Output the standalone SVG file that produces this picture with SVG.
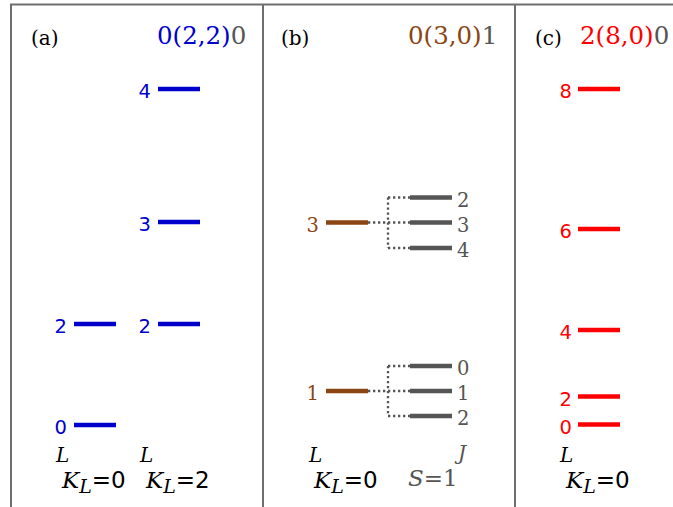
<svg xmlns="http://www.w3.org/2000/svg" width="673" height="507" viewBox="0 0 673 507">
<style>
.frame{stroke:#6e6e6e;stroke-width:2;fill:none}
.lv{stroke-width:4.5;fill:none}
.blue{stroke:#0000cc}
.red{stroke:#ff0000}
.brown{stroke:#8b4513}
.gray{stroke:#555555}
.dot{stroke:#555555;stroke-width:2.3;stroke-dasharray:2.3,2.7;fill:none}
.title{font-family:"DejaVu Serif",serif;font-size:24.5px}
.pl{font-family:"DejaVu Serif",serif;font-size:20px;fill:#000}
.num{font-family:"DejaVu Sans",sans-serif;font-size:19.5px;text-anchor:end}
.snum{font-family:"DejaVu Serif",serif;font-size:19.5px}
.it{font-family:"DejaVu Serif",serif;font-style:italic;font-size:20px;fill:#000}
.kl{font-family:"DejaVu Serif",serif;font-size:23px;fill:#000}
.eq{font-family:"DejaVu Sans",sans-serif;font-style:normal}
</style>
<g id="frame">
<path class="frame" d="M11,507 V4.5 H673 M263,4.5 V507 M515,4.5 V507"/>
</g>
<g id="panel-a">
<text class="pl" x="31" y="45">(a)</text>
<text class="title" x="157" y="44"><tspan fill="#0000cc">0(2,2)</tspan><tspan fill="#555555">0</tspan></text>
<g id="a-KL0-L2"><line class="lv blue" x1="74" y1="324" x2="116" y2="324"/><text class="num" x="67" y="333" fill="#0000cc">2</text></g>
<g id="a-KL0-L0"><line class="lv blue" x1="74" y1="425" x2="116" y2="425"/><text class="num" x="67" y="434" fill="#0000cc">0</text></g>
<g id="a-KL2-L4"><line class="lv blue" x1="158" y1="89" x2="200" y2="89"/><text class="num" x="151" y="98" fill="#0000cc">4</text></g>
<g id="a-KL2-L3"><line class="lv blue" x1="158" y1="222" x2="200" y2="222"/><text class="num" x="151" y="231" fill="#0000cc">3</text></g>
<g id="a-KL2-L2"><line class="lv blue" x1="158" y1="324" x2="200" y2="324"/><text class="num" x="151" y="333" fill="#0000cc">2</text></g>
<text class="it" x="56" y="462">L</text>
<text class="kl" x="62" y="488"><tspan font-style="italic">K</tspan><tspan font-style="italic" font-size="19" dy="5">L</tspan><tspan class="eq" dy="-5">=0</tspan></text>
<text class="it" x="140" y="462">L</text>
<text class="kl" x="146" y="488"><tspan font-style="italic">K</tspan><tspan font-style="italic" font-size="19" dy="5">L</tspan><tspan class="eq" dy="-5">=2</tspan></text>
</g>
<g id="panel-b">
<text class="pl" x="281" y="45">(b)</text>
<text class="title" x="408" y="44"><tspan fill="#8b4513">0(3,0)</tspan><tspan fill="#555555">1</tspan></text>
<g id="b-L3"><line class="lv brown" x1="326" y1="222.5" x2="368" y2="222.5"/><text class="snum" x="319" y="232" text-anchor="end" fill="#8b4513">3</text></g>
<g id="b-L1"><line class="lv brown" x1="326" y1="391" x2="368" y2="391"/><text class="snum" x="319" y="400" text-anchor="end" fill="#8b4513">1</text></g>
<g id="b-J2-upper"><line class="lv gray" x1="410" y1="197.5" x2="452" y2="197.5"/><text class="snum" x="457" y="207" fill="#555555">2</text></g>
<g id="b-J3-upper"><line class="lv gray" x1="410" y1="222.5" x2="452" y2="222.5"/><text class="snum" x="457" y="232" fill="#555555">3</text></g>
<g id="b-J4-upper"><line class="lv gray" x1="410" y1="248" x2="452" y2="248"/><text class="snum" x="457" y="257" fill="#555555">4</text></g>
<g id="b-J0-lower"><line class="lv gray" x1="410" y1="366" x2="452" y2="366"/><text class="snum" x="457" y="375" fill="#555555">0</text></g>
<g id="b-J1-lower"><line class="lv gray" x1="410" y1="391" x2="452" y2="391"/><text class="snum" x="457" y="400" fill="#555555">1</text></g>
<g id="b-J2-lower"><line class="lv gray" x1="410" y1="416" x2="452" y2="416"/><text class="snum" x="457" y="425" fill="#555555">2</text></g>
<text class="it" x="309" y="462">L</text>
<text class="kl" x="314" y="488"><tspan font-style="italic">K</tspan><tspan font-style="italic" font-size="19" dy="5">L</tspan><tspan class="eq" dy="-5">=0</tspan></text>
<text class="it" x="458" y="460" style="fill:#555555">J</text>
<text class="kl" x="408" y="486" style="fill:#555555"><tspan font-style="italic">S</tspan>=1</text>
</g>
<g id="connectors">
<path class="dot" d="M368,222.5 H388 M388,197.5 V248 M388,197.5 H410 M388,222.5 H410 M388,248 H410"/>
<path class="dot" d="M368,391 H388 M388,366 V416 M388,366 H410 M388,391 H410 M388,416 H410"/>
</g>
<g id="panel-c">
<text class="pl" x="535" y="45">(c)</text>
<text class="title" x="580" y="44"><tspan fill="#ff0000">2(8,0)</tspan><tspan fill="#555555">0</tspan></text>
<g id="c-L8"><line class="lv red" x1="578" y1="89" x2="620" y2="89"/><text class="num" x="572" y="98" fill="#ff0000">8</text></g>
<g id="c-L6"><line class="lv red" x1="578" y1="229" x2="620" y2="229"/><text class="num" x="572" y="238" fill="#ff0000">6</text></g>
<g id="c-L4"><line class="lv red" x1="578" y1="330" x2="620" y2="330"/><text class="num" x="572" y="339" fill="#ff0000">4</text></g>
<g id="c-L2"><line class="lv red" x1="578" y1="396.5" x2="620" y2="396.5"/><text class="num" x="572" y="406" fill="#ff0000">2</text></g>
<g id="c-L0"><line class="lv red" x1="578" y1="424.5" x2="620" y2="424.5"/><text class="num" x="572" y="434" fill="#ff0000">0</text></g>
<text class="it" x="560" y="462">L</text>
<text class="kl" x="566" y="488"><tspan font-style="italic">K</tspan><tspan font-style="italic" font-size="19" dy="5">L</tspan><tspan class="eq" dy="-5">=0</tspan></text>
</g>
</svg>
